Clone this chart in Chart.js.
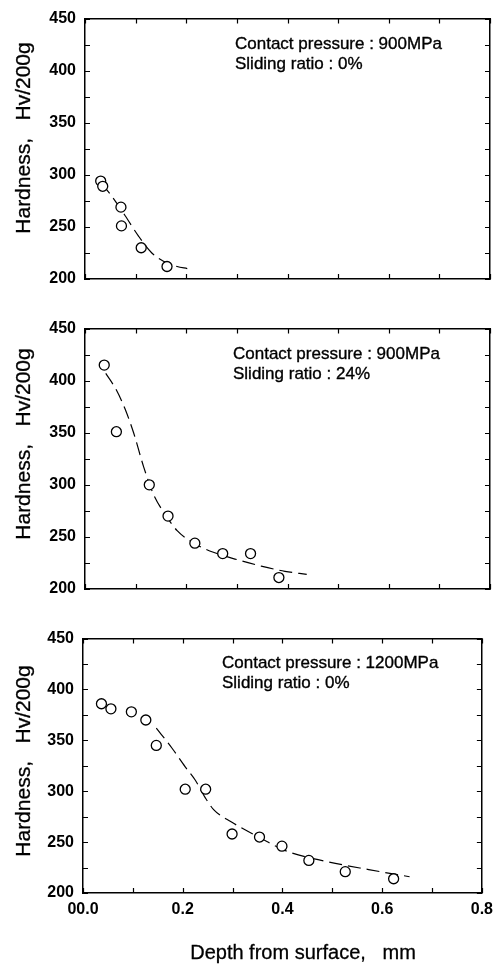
<!DOCTYPE html>
<html><head><meta charset="utf-8">
<script src="https://cdn.jsdelivr.net/npm/chart.js@4.4.1/dist/chart.umd.min.js"></script>
<style>
body{margin:0;background:#fff;width:500px;height:968px;position:relative;overflow:hidden;font-family:"Liberation Sans",Arial,sans-serif;color:#000}
canvas{position:absolute;left:0}
.yt{position:absolute;left:-127px;width:300px;height:24px;line-height:24px;text-align:center;font-size:21px;transform:rotate(-90deg);white-space:pre;-webkit-text-stroke:0.3px #000}
.note{position:absolute;font-size:17px;line-height:20px;white-space:pre;-webkit-text-stroke:0.35px #000}
.xt{position:absolute;left:153px;width:300px;top:940px;height:24px;line-height:24px;text-align:center;font-size:20px;white-space:pre;-webkit-text-stroke:0.3px #000}
</style></head>
<body>
<canvas id="c1" width="500" height="300" style="top:0px"></canvas>
<canvas id="c2" width="500" height="300" style="top:310px"></canvas>
<canvas id="c3" width="500" height="348" style="top:620px"></canvas>
<div class="yt" style="top:126px">Hardness,   Hv/200g</div>
<div class="yt" style="top:432px">Hardness,   Hv/200g</div>
<div class="yt" style="top:749px">Hardness,   Hv/200g</div>
<div class="note" style="left:235px;top:34px">Contact pressure : 900MPa
Sliding ratio : 0%</div>
<div class="note" style="left:233px;top:344px">Contact pressure : 900MPa
Sliding ratio : 24%</div>
<div class="note" style="left:222px;top:653px">Contact pressure : 1200MPa
Sliding ratio : 0%</div>
<div class="xt">Depth from surface,   mm</div>
<script>
// ---- data ----
const xTickLabels = ['00.0', '', '0.2', '', '0.4', '', '0.6', '', '0.8'];
const yLabelStep = 50;

// Panel 1: 900MPa, sliding ratio 0%
const depth1 = [0.031, 0.035, 0.071, 0.072, 0.111, 0.162];
const hard1  = [294, 289, 269, 251, 230, 212];
const fitDepth1 = [0.033, 0.052, 0.079, 0.106, 0.132, 0.155, 0.182, 0.202];
const fitHard1  = [292, 280, 261, 241, 225, 217, 212, 210];

// Panel 2: 900MPa, sliding ratio 24%
const depth2 = [0.038, 0.062, 0.127, 0.164, 0.217, 0.272, 0.327, 0.383];
const hard2  = [415, 351, 300, 270, 244, 234, 234, 211];
const fitDepth2 = [0.041, 0.062, 0.079, 0.096, 0.116, 0.136, 0.155, 0.182, 0.215, 0.255, 0.302, 0.348, 0.395, 0.438];
const fitHard2  = [407, 391, 373, 350, 317, 290, 274, 256, 244, 235, 228, 222, 217, 214];

// Panel 3: 1200MPa, sliding ratio 0%
const depth3 = [0.037, 0.056, 0.097, 0.126, 0.147, 0.205, 0.246, 0.299, 0.354, 0.399, 0.453, 0.526, 0.623];
const hard3  = [386, 381, 378, 370, 345, 302, 302, 258, 255, 246, 232, 221, 214];
const fitDepth3 = [0.147, 0.179, 0.205, 0.225, 0.246, 0.262, 0.297, 0.356, 0.409, 0.488, 0.573, 0.655];
const fitHard3  = [362, 342, 324, 311, 293, 282, 270, 254, 241, 231, 223, 216];

// ---- drawing ----
const FONT = '"Liberation Sans", Arial, sans-serif';
const pts = (xs, ys) => xs.map((x, i) => ({x: x, y: ys[i]}));

// inward tick marks on all four sides, placed by the chart's own scales
const inwardTicks = {
  id: 'inwardTicks',
  afterDraw(chart) {
    const {ctx, chartArea: a} = chart;
    const x = chart.scales.x, y = chart.scales.y;
    ctx.save();
    ctx.strokeStyle = '#000';
    ctx.lineWidth = 1.2;
    ctx.beginPath();
    x.ticks.forEach(t => {
      const px = Math.round(x.getPixelForValue(t.value)) + 0.5;
      ctx.moveTo(px, a.bottom); ctx.lineTo(px, a.bottom - 5);
      ctx.moveTo(px, a.top); ctx.lineTo(px, a.top + 5);
    });
    y.ticks.forEach(t => {
      const py = Math.round(y.getPixelForValue(t.value)) + 0.5;
      ctx.moveTo(a.left, py); ctx.lineTo(a.left + 5, py);
      ctx.moveTo(a.right, py); ctx.lineTo(a.right - 5, py);
    });
    ctx.stroke();
    ctx.restore();
  }
};

function panel(id, xs, ys, fx, fy, lay) {
  const noGrid = {display: false, drawOnChartArea: false, drawTicks: false};
  const frameBorder = {display: true, color: '#000', width: 1.5};
  new Chart(document.getElementById(id), {
    type: 'scatter',
    data: {
      datasets: [
        {data: pts(xs, ys), pointRadius: 5, pointHoverRadius: 5, pointBorderWidth: 1.3,
         pointBorderColor: '#000', pointBackgroundColor: '#fff', showLine: false, order: 0},
        {data: pts(fx, fy), showLine: true, pointRadius: 0, borderColor: '#000', borderWidth: 1.2,
         borderDash: [13, 6], cubicInterpolationMode: 'monotone', fill: false, order: 1}
      ]
    },
    plugins: [inwardTicks],
    options: {
      responsive: false, animation: false,
      layout: {padding: {top: lay.top, right: lay.right, left: 0, bottom: 0}},
      plugins: {legend: {display: false}, tooltip: {enabled: false}},
      scales: {
        x: {type: 'linear', position: 'bottom', min: 0, max: 0.8,
            grid: noGrid, border: frameBorder,
            ticks: {stepSize: 0.1, autoSkip: false, maxRotation: 0, display: lay.xLabels, padding: 7,
                    color: '#000', font: {family: FONT, size: 16, weight: 'bold'},
                    callback: (v, i) => xTickLabels[i]},
            afterFit: s => { s.height = lay.bottomH; }},
        x2: {type: 'linear', position: 'top', min: 0, max: 0.8,
             grid: noGrid, border: frameBorder,
             ticks: {stepSize: 0.1, display: false},
             afterFit: s => { s.height = 0; }},
        y: {type: 'linear', position: 'left', min: 200, max: 450,
            grid: noGrid, border: frameBorder,
            ticks: {stepSize: 25, autoSkip: false, padding: 9, color: '#000',
                    font: {family: FONT, size: 16, weight: 'bold'},
                    callback: v => (v % yLabelStep === 0 ? String(v) : '')},
            afterFit: s => { s.width = lay.left; }},
        y2: {type: 'linear', position: 'right', min: 200, max: 450,
             grid: noGrid, border: frameBorder,
             ticks: {stepSize: 25, display: false},
             afterFit: s => { s.width = 0; }}
      }
    }
  });
}

panel('c1', depth1, hard1, fitDepth1, fitHard1, {top: 15, right: 10, left: 85, bottomH: 21, xLabels: false});
panel('c2', depth2, hard2, fitDepth2, fitHard2, {top: 16, right: 10, left: 85, bottomH: 21, xLabels: false});
panel('c3', depth3, hard3, fitDepth3, fitHard3, {top: 15, right: 12, left: 83, bottomH: 75, xLabels: true});
</script>
</body></html>
